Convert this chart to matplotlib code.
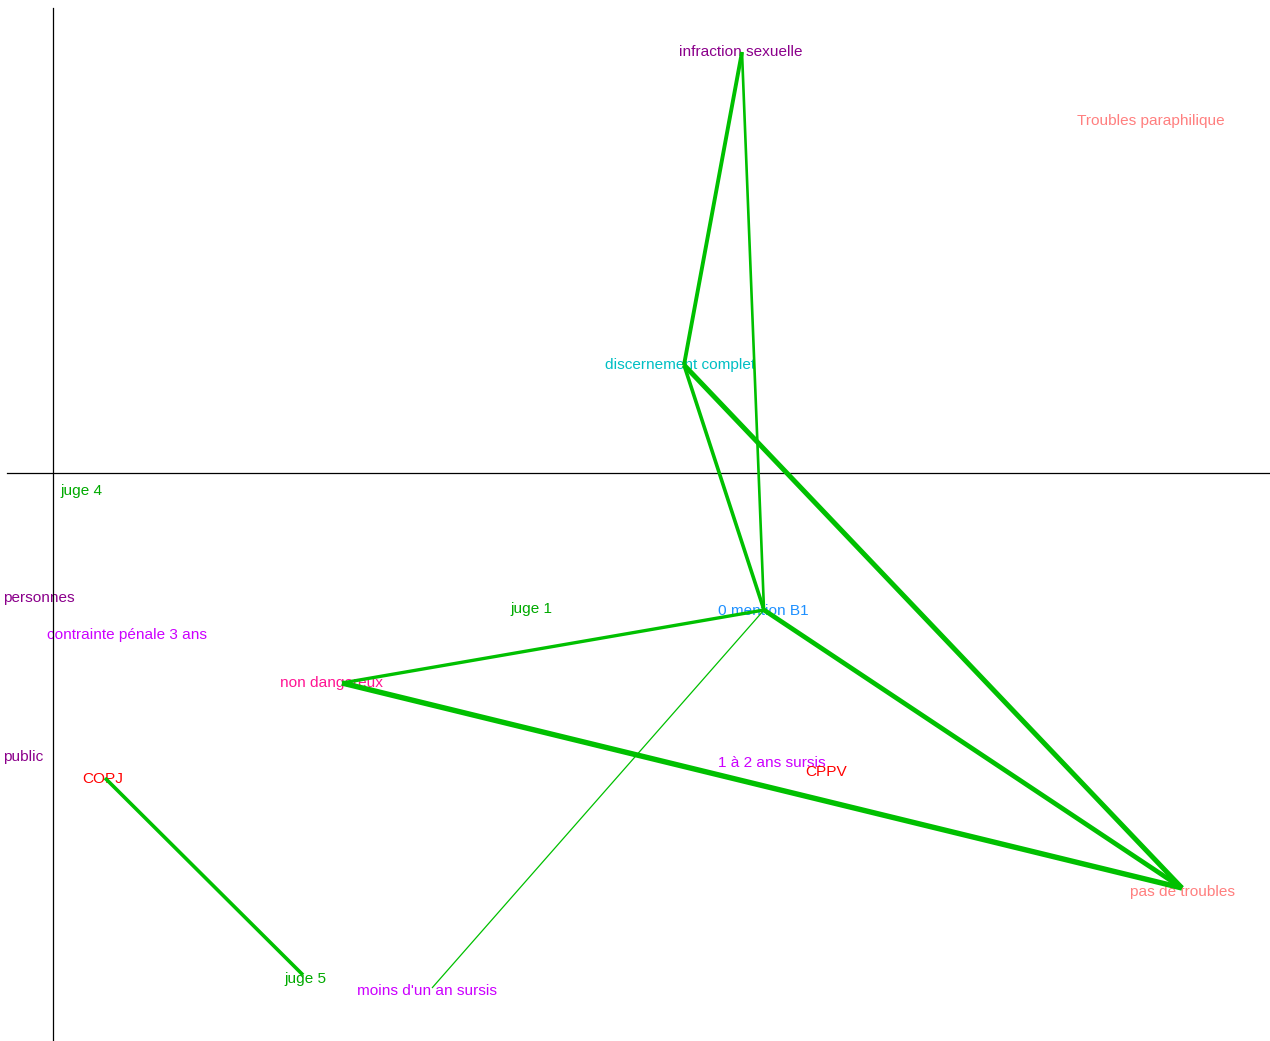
import matplotlib.pyplot as plt

# node labels, positions (x, y) and label colours
labels = ["infraction sexuelle", "Troubles paraphilique", "discernement complet", "juge 4",
          "personnes", "contrainte pénale 3 ans", "juge 1", "0 mention B1", "non dangereux",
          "public", "1 à 2 ans sursis", "CPPV", "COPJ", "pas de troubles", "juge 5",
          "moins d'un an sursis"]
xs = [6.88, 10.98, 6.27, 0.28, 0.22, 0.74, 4.78, 7.10, 2.79, -0.10, 7.19, 7.73, 0.50,
      11.29, 2.52, 3.74]
ys = [4.21, 3.52, 1.08, -0.18, -1.25, -1.62, -1.36, -1.38, -2.10, -2.84, -2.90, -2.99,
      -3.06, -4.19, -5.06, -5.18]
colors = ["#8B008B", "#FF7F7F", "#00BFC4", "#00AA00", "#8B008B", "#CC00FF", "#00AA00",
          "#1E90FF", "#FF1493", "#8B008B", "#CC00FF", "#FF0000", "#FF0000", "#FF7F7F",
          "#00AA00", "#CC00FF"]

# edges between nodes and their widths
edge_from = ["infraction sexuelle", "infraction sexuelle", "discernement complet",
             "discernement complet", "0 mention B1", "0 mention B1", "non dangereux",
             "0 mention B1", "COPJ"]
edge_to = ["discernement complet", "0 mention B1", "0 mention B1", "pas de troubles",
           "pas de troubles", "non dangereux", "pas de troubles", "moins d'un an sursis",
           "juge 5"]
edge_w = [2.8, 1.9, 2.6, 3.6, 3.4, 2.4, 3.9, 0.9, 2.6]

# edge anchor points (slightly off the label centres)
anchor = {"infraction sexuelle": (6.89, 4.21), "discernement complet": (6.31, 1.08),
          "0 mention B1": (7.11, -1.37), "non dangereux": (2.89, -2.10),
          "pas de troubles": (11.29, -4.15), "COPJ": (0.52, -3.05),
          "juge 5": (2.50, -5.02), "moins d'un an sursis": (3.79, -5.15)}

plt.rcParams['font.family'] = ['Liberation Sans', 'DejaVu Sans']

fig = plt.figure(figsize=(12.7, 10.41), dpi=100)
ax = fig.add_axes([0, 0, 1, 1])
ax.set_xlim(-0.53, 12.17)
ax.set_ylim(-5.68, 4.73)
ax.axis('off')

ax.plot([-0.46, 12.17], [0, 0], color='black', lw=0.9)
ax.plot([0, 0], [4.65, -5.68], color='black', lw=0.9)

for a, b, w in zip(edge_from, edge_to, edge_w):
    p, q = anchor[a], anchor[b]
    ax.plot([p[0], q[0]], [p[1], q[1]], color='#00C000', lw=w, solid_capstyle='butt', zorder=2)

for lab, x, y, c in zip(labels, xs, ys, colors):
    ha = 'right' if lab in ("personnes", "public") else 'center'
    ax.text(x, y, lab, color=c, fontsize=11.1, ha=ha, va='center', zorder=1)

fig.savefig('out.png', dpi=100)
